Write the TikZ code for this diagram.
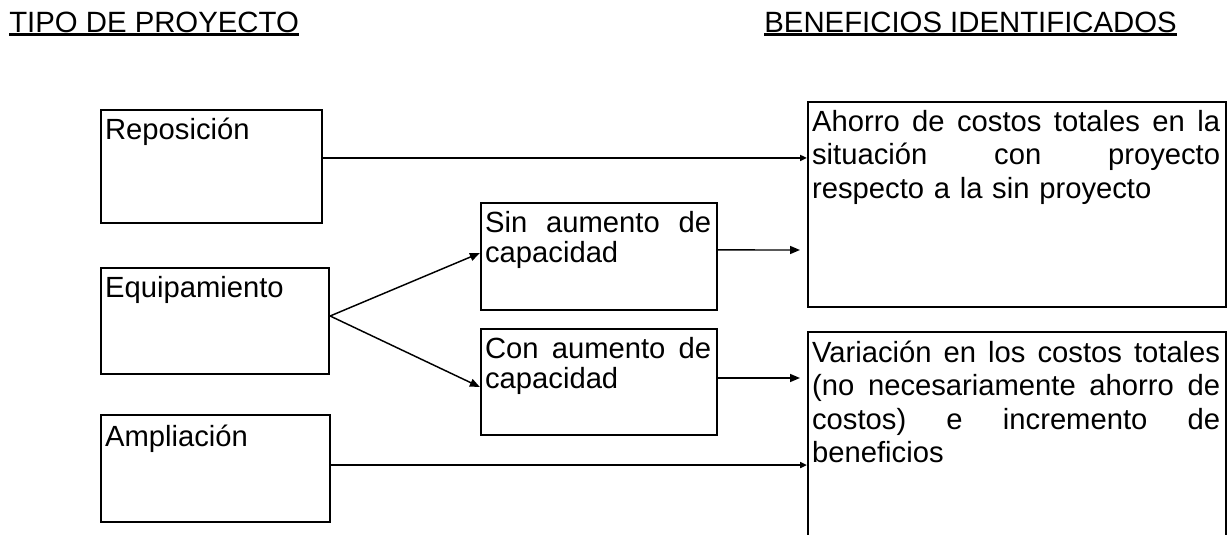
\documentclass[tikz,border=0pt]{standalone}
\usepackage{fontspec}
\setmainfont{Liberation Sans}
\usetikzlibrary{arrows.meta,calc}
\newcommand\tstrut{\vrule height 17.5pt depth 0pt width 0pt}
\newcommand\jwide[1]{\leavevmode\hbox to 306pt{#1}}
\newcommand\jmid[1]{\leavevmode\hbox to 169.5pt{#1}}
\begin{document}
\begin{tikzpicture}[x=0.75pt,y=-0.75pt,
  box/.style={draw, line width=1.7pt, inner sep=0pt, anchor=center},
  lbl/.style={anchor=north west, inner sep=0pt, align=left, xshift=3.75pt, yshift=-5pt},
  wide/.style={lbl, font=\fontsize{21.9}{25.1}\selectfont, text width=306pt},
  mid/.style={lbl, font=\fontsize{21.9}{22.5}\selectfont, text width=169.5pt},
  small/.style={lbl, font=\fontsize{21.9}{25.1}\selectfont},
  hdr/.style={inner sep=0pt, font=\fontsize{22}{26}\selectfont},
  conn/.style={line width=1.1pt},
  bigtip/.style={conn, -{Triangle[length=7.5pt,width=6pt]}},
  smalltip/.style={conn, -{Triangle[length=5pt,width=4.5pt]}}
]
\useasboundingbox (0,0) rectangle (1228,535);
\clip (0,0) rectangle (1228,535);

% headers
\node[hdr, anchor=base west] (h1) at (9,32.7) {TIPO DE PROYECTO};
\node[hdr, anchor=base east] (h2) at (1177,32.7) {BENEFICIOS IDENTIFICADOS};
\draw[line width=2pt] ([yshift=-1.6pt]h1.base west) -- ([yshift=-1.6pt]h1.base east);
\draw[line width=2pt] ([yshift=-1.6pt]h2.base west) -- ([yshift=-1.6pt]h2.base east);

% left boxes
\node[box, minimum width=165.75pt, minimum height=84.75pt] (rep) at (211.5,166.5) {};
\node[box, minimum width=171pt, minimum height=79.5pt] (eq) at (215,321) {};
\node[box, minimum width=171.75pt, minimum height=80.25pt] (amp) at (215.5,468.5) {};
\node[small] (repT) at (rep.north west) {\tstrut Reposición};
\node[small] (eqT) at (eq.north west) {\tstrut Equipamiento};
\node[small, yshift=-1.5pt] (ampT) at (amp.north west) {\tstrut Ampliación};

% middle boxes
\node[box, minimum width=177pt, minimum height=80.25pt] (sin) at (599,256.5) {};
\node[box, minimum width=177pt, minimum height=79.5pt] (con) at (599,382) {};
\node[mid] (sinT) at (sin.north west) {\tstrut\jmid{Sin\hfill aumento\hfill de}\\capacidad};
\node[mid] (conT) at (con.north west) {\tstrut\jmid{Con\hfill aumento\hfill de}\\capacidad};

% right boxes
\node[box, minimum width=313.5pt, minimum height=153.75pt] (b1) at (1017,204.5) {};
\node[box, minimum width=313.5pt, minimum height=171pt] (b2) at (1017,446) {};
\node[wide] (b1T) at (b1.north west) {\tstrut\jwide{Ahorro\hfill de\hfill costos\hfill totales\hfill en\hfill la}\\
  \jwide{situación\hfill con\hfill proyecto}\\
  respecto a la sin proyecto};
\node[wide, yshift=-0.75pt] (b2T) at (b2.north west) {\tstrut\jwide{Variación\hfill en\hfill los\hfill costos\hfill totales}\\
  \jwide{(no\hfill necesariamente\hfill ahorro\hfill de}\\
  \jwide{costos)\hfill e\hfill incremento\hfill de}\\
  beneficios};

% connectors
\coordinate (r1) at ([yshift=6.4pt]rep.east);
\draw[smalltip] (r1) -- (r1 -| b1.west);

\coordinate (fk) at ([yshift=3.75pt]eq.east);
\draw[bigtip] (fk) -- ([yshift=2.6pt]sin.west);
\draw[bigtip] (fk) -- ([yshift=-3.75pt]con.west);

\coordinate (s1) at ([yshift=4.9pt]sin.east);
\coordinate (s2) at (800,250);
\draw[bigtip] (s1) -- (s2);

\coordinate (c1) at ([yshift=3pt]con.east);
\coordinate (c2) at (800,378);
\draw[bigtip] (c1) -- (c2);

\coordinate (a1) at ([yshift=2.6pt]amp.east);
\draw[smalltip] (a1) -- (a1 -| b2.west);
\end{tikzpicture}
\end{document}
